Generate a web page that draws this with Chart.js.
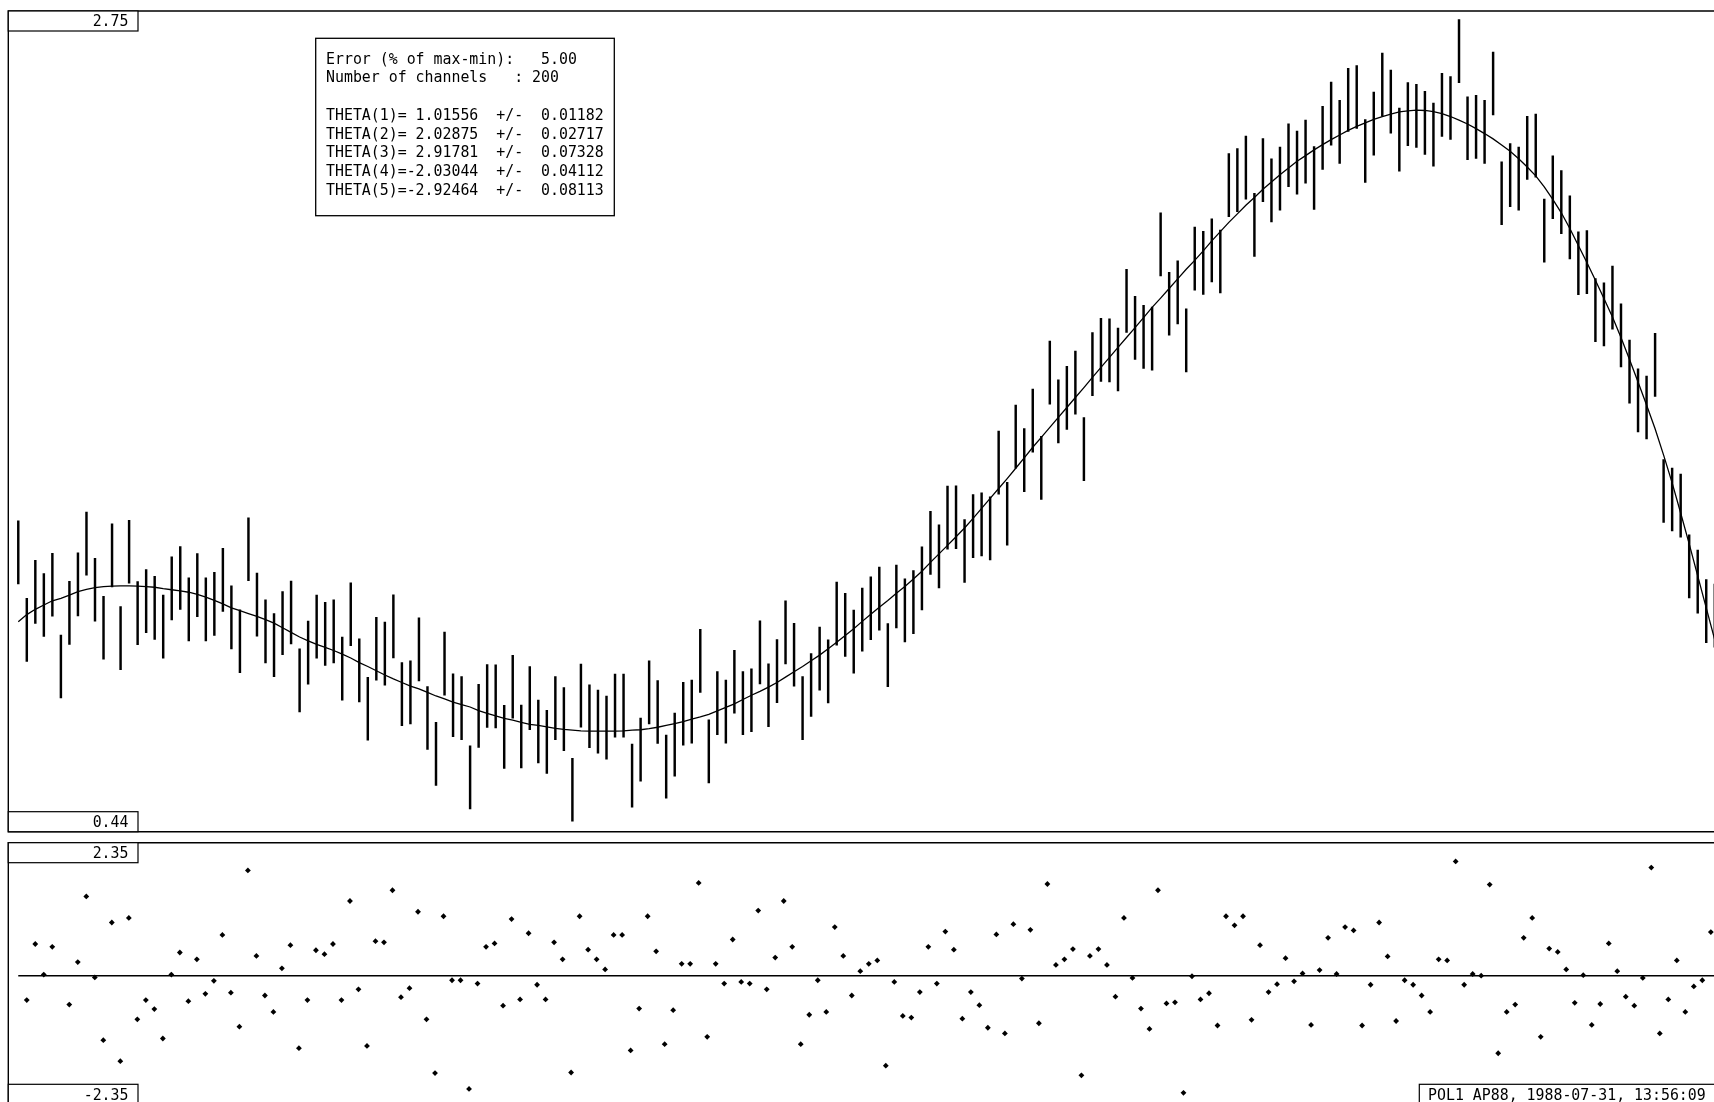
<!DOCTYPE html>
<html>
<head>
<meta charset="utf-8">
<script src="https://cdn.jsdelivr.net/npm/chart.js@4/dist/chart.umd.min.js"></script>
<style>
  html, body { margin: 0; padding: 0; background: #fff; overflow: hidden; }
  #wrap { position: relative; width: 1714px; height: 1102px; overflow: hidden; background: #fff; }
  #wrap canvas { position: absolute; left: 0; }
  #fit { top: 0; width: 1740px; height: 840px; }
  #res { top: 835px; width: 1740px; height: 280px; }
</style>
</head>
<body>
<div id="wrap">
  <canvas id="fit" width="1740" height="840"></canvas>
  <canvas id="res" width="1740" height="280"></canvas>
</div>
<script>
// Measured channel values (centre of each error bar)
const measured = [
  1.226,1.008,1.115,1.078,1.135,0.905,1.056,1.136,1.251,1.121,
  1.014,1.218,0.985,1.228,1.055,1.089,1.070,1.017,1.125,1.154,
  1.066,1.134,1.066,1.081,1.149,1.043,0.976,1.235,1.079,1.004,
  0.965,1.027,1.057,0.866,0.944,1.017,0.997,1.004,0.899,1.052,
  0.894,0.786,0.955,0.941,1.018,0.827,0.832,0.953,0.760,0.659,
  0.913,0.796,0.788,0.593,0.766,0.822,0.821,0.707,0.848,0.708,
  0.816,0.722,0.693,0.788,0.757,0.558,0.823,0.765,0.750,0.733,
  0.795,0.795,0.598,0.671,0.832,0.777,0.623,0.685,0.772,0.778,
  0.921,0.666,0.802,0.778,0.862,0.802,0.810,0.945,0.824,0.892,
  1.001,0.938,0.788,0.853,0.927,0.891,1.054,1.022,0.975,1.037,
  1.069,1.096,0.937,1.102,1.063,1.086,1.153,1.253,1.215,1.324,
  1.325,1.230,1.300,1.305,1.294,1.479,1.335,1.552,1.486,1.597,
  1.464,1.732,1.623,1.661,1.704,1.517,1.756,1.796,1.795,1.769,
  1.934,1.858,1.833,1.828,2.093,1.926,1.958,1.823,2.053,2.041,
  2.076,2.045,2.260,2.274,2.309,2.148,2.302,2.245,2.278,2.344,
  2.323,2.354,2.280,2.393,2.461,2.410,2.500,2.508,2.356,2.433,
  2.543,2.495,2.388,2.460,2.455,2.435,2.402,2.486,2.477,2.637,
  2.420,2.424,2.410,2.546,2.237,2.288,2.278,2.365,2.371,2.132,
  2.254,2.212,2.141,2.040,2.043,1.908,1.896,1.943,1.837,1.735,
  1.654,1.634,1.754,1.399,1.375,1.358,1.187,1.144,1.061,1.048
];

// Half-length of every error bar
const SIGMA = 0.0887;

// Fitted model evaluated at each channel
const fitCurve = [
  1.031,1.051,1.066,1.078,1.090,1.097,1.106,1.116,1.122,1.127,
  1.130,1.131,1.132,1.132,1.131,1.130,1.128,1.124,1.121,1.118,
  1.114,1.108,1.100,1.091,1.081,1.070,1.062,1.054,1.046,1.037,
  1.027,1.014,1.001,0.988,0.977,0.967,0.959,0.950,0.940,0.929,
  0.916,0.905,0.893,0.881,0.870,0.860,0.850,0.842,0.832,0.822,
  0.814,0.805,0.798,0.791,0.781,0.773,0.766,0.759,0.754,0.748,
  0.742,0.739,0.735,0.731,0.728,0.726,0.724,0.723,0.723,0.723,
  0.723,0.724,0.726,0.727,0.730,0.734,0.739,0.744,0.750,0.757,
  0.763,0.770,0.780,0.790,0.800,0.812,0.824,0.835,0.847,0.860,
  0.875,0.890,0.905,0.921,0.937,0.955,0.973,0.992,1.011,1.032,
  1.052,1.072,1.091,1.111,1.130,1.151,1.173,1.198,1.222,1.246,
  1.270,1.295,1.322,1.350,1.378,1.406,1.434,1.463,1.492,1.522,
  1.550,1.578,1.606,1.634,1.662,1.690,1.719,1.747,1.775,1.803,
  1.831,1.859,1.887,1.916,1.942,1.969,1.996,2.023,2.048,2.075,
  2.103,2.129,2.155,2.179,2.203,2.225,2.248,2.269,2.289,2.308,
  2.327,2.343,2.359,2.374,2.388,2.401,2.414,2.425,2.435,2.445,
  2.453,2.460,2.466,2.469,2.471,2.470,2.467,2.461,2.453,2.443,
  2.432,2.419,2.405,2.390,2.373,2.355,2.334,2.311,2.286,2.255,
  2.220,2.182,2.138,2.090,2.042,1.992,1.941,1.889,1.831,1.769,
  1.706,1.641,1.574,1.500,1.422,1.337,1.250,1.160,1.070,0.980
];

// Normalised residuals (data - fit) / error
const residuals = [
  2.20,-0.43,0.56,0.02,0.51,-2.17,-0.51,0.24,1.40,-0.03,
  -1.14,0.94,-1.51,1.02,-0.77,-0.43,-0.59,-1.11,0.02,0.41,
  -0.45,0.29,-0.32,-0.09,0.72,-0.30,-0.90,1.86,0.35,-0.35,
  -0.64,0.13,0.54,-1.28,-0.43,0.45,0.38,0.56,-0.43,1.32,
  -0.24,-1.24,0.61,0.59,1.51,-0.38,-0.22,1.13,-0.77,-1.72,
  1.05,-0.08,-0.08,-2.00,-0.14,0.51,0.57,-0.53,1.00,-0.42,
  0.75,-0.16,-0.42,0.59,0.29,-1.71,1.05,0.46,0.29,0.11,
  0.72,0.72,-1.32,-0.58,1.05,0.43,-1.21,-0.61,0.21,0.21,
  1.64,-1.08,0.21,-0.14,0.64,-0.11,-0.14,1.15,-0.24,0.32,
  1.32,0.51,-1.21,-0.69,-0.08,-0.64,0.86,0.35,-0.35,0.08,
  0.21,0.27,-1.59,-0.11,-0.71,-0.74,-0.29,0.51,-0.14,0.78,
  0.46,-0.76,-0.29,-0.52,-0.92,0.73,-1.02,0.91,-0.05,0.81,
  -0.84,1.62,0.19,0.29,0.47,-1.76,0.35,0.47,0.19,-0.37,
  1.02,-0.04,-0.58,-0.94,1.51,-0.49,-0.47,-2.07,-0.01,-0.42,
  -0.31,-0.88,1.05,0.89,1.05,-0.78,0.54,-0.29,-0.15,0.31,
  -0.10,0.04,-0.87,0.10,0.67,0.03,0.86,0.80,-0.88,-0.16,
  0.94,0.34,-0.80,-0.08,-0.16,-0.35,-0.64,0.29,0.27,2.02,
  -0.16,0.03,0.00,1.61,-1.37,-0.64,-0.51,0.67,1.02,-1.08,
  0.48,0.42,0.11,-0.48,0.01,-0.87,-0.50,0.57,0.08,-0.37,
  -0.53,-0.04,1.91,-1.02,-0.42,0.27,-0.64,-0.19,-0.08,0.77
];

// Axis limits shown in the corner boxes
const fitRange = [0.44, 2.75];
const residualRange = [-2.35, 2.35];

// Fit summary printed in the upper panel
const infoLines = [
  'Error (% of max-min):   5.00',
  'Number of channels   : 200',
  '',
  'THETA(1)= 1.01556  +/-  0.01182',
  'THETA(2)= 2.02875  +/-  0.02717',
  'THETA(3)= 2.91781  +/-  0.07328',
  'THETA(4)=-2.03044  +/-  0.04112',
  'THETA(5)=-2.92464  +/-  0.08113'
];
const footerText = 'POL1 AP88, 1988-07-31, 13:56:09';

const channels = measured.map((_, i) => i);
const X_MIN = -1.17, X_MAX = 201.96;
const FONT = '"DejaVu Sans Mono", "Liberation Mono", monospace';

function monoText(ctx, str, x, y, align) {
  const sx = 0.93;
  ctx.save();
  ctx.font = '16px ' + FONT;
  ctx.fillStyle = '#000';
  ctx.textBaseline = 'alphabetic';
  ctx.scale(sx, 1);
  const w = ctx.measureText(str).width;
  ctx.fillText(str, align === 'right' ? x / sx - w : x / sx, y);
  ctx.restore();
}

function labelBox(ctx, x0, y0, x1, y1, text, align, tx) {
  ctx.save();
  ctx.fillStyle = '#fff';
  ctx.fillRect(x0, y0, x1 - x0, y1 - y0);
  ctx.strokeStyle = '#000';
  ctx.lineWidth = 1.2;
  ctx.strokeRect(x0, y0, x1 - x0, y1 - y0);
  ctx.restore();
  monoText(ctx, text, tx, y0 + 15.3, align);
}

// Frame, corner labels and parameter table of the fit panel
const fitDecor = {
  id: 'fitDecor',
  afterDraw(chart) {
    const ctx = chart.ctx, a = chart.chartArea;
    ctx.save();
    ctx.strokeStyle = '#000';
    ctx.lineWidth = 1.4;
    ctx.beginPath();
    ctx.moveTo(chart.width, a.top);
    ctx.lineTo(a.left, a.top);
    ctx.lineTo(a.left, a.bottom);
    ctx.lineTo(chart.width, a.bottom);
    ctx.stroke();
    ctx.restore();

    labelBox(ctx, a.left, a.top, 138, a.top + 20, fitRange[1].toFixed(2), 'right', 128.5);
    labelBox(ctx, a.left, a.bottom - 20, 138, a.bottom, fitRange[0].toFixed(2), 'right', 128.5);

    // parameter table
    ctx.save();
    ctx.fillStyle = '#fff';
    ctx.fillRect(315.7, 38.3, 298.6, 177.4);
    ctx.strokeStyle = '#000';
    ctx.lineWidth = 1.3;
    ctx.strokeRect(315.7, 38.3, 298.6, 177.4);
    ctx.restore();
    infoLines.forEach((line, k) => {
      if (line) monoText(ctx, line, 326, 63.5 + 18.75 * k, 'left');
    });
  }
};

// Frame and labels of the residual panel
const resDecor = {
  id: 'resDecor',
  afterDraw(chart) {
    const ctx = chart.ctx, a = chart.chartArea;
    ctx.save();
    ctx.strokeStyle = '#000';
    ctx.lineWidth = 1.4;
    ctx.beginPath();
    ctx.moveTo(chart.width, a.top);
    ctx.lineTo(a.left, a.top);
    ctx.lineTo(a.left, chart.height);
    ctx.stroke();
    ctx.restore();

    labelBox(ctx, a.left, a.top, 138, a.top + 20, residualRange[1].toFixed(2), 'right', 128.5);
    labelBox(ctx, a.left, 249.3, 138, 269.3, residualRange[0].toFixed(2), 'right', 128.5);
    labelBox(ctx, 1419.3, 249.3, chart.width + 5, 269.3, footerText, 'left', 1428);
  }
};

Chart.defaults.font.family = FONT;

new Chart(document.getElementById('fit'), {
  type: 'bar',
  data: {
    datasets: [
      {
        type: 'bar',
        data: channels.map(i => ({ x: i, y: [measured[i] - SIGMA, measured[i] + SIGMA] })),
        backgroundColor: '#000',
        borderWidth: 0,
        barThickness: 1.8,
        grouped: false
      },
      {
        type: 'line',
        data: channels.map(i => ({ x: i, y: fitCurve[i] })),
        borderColor: '#000',
        borderWidth: 1.3,
        pointRadius: 0,
        tension: 0,
        fill: false
      }
    ]
  },
  options: {
    responsive: false,
    animation: false,
    devicePixelRatio: 1,
    layout: { padding: { left: 8.3, top: 11, right: 0, bottom: 8.3 } },
    plugins: { legend: { display: false }, tooltip: { enabled: false } },
    scales: {
      x: { type: 'linear', min: X_MIN, max: X_MAX, offset: false, display: false },
      y: { type: 'linear', min: fitRange[0], max: fitRange[1], display: false }
    }
  },
  plugins: [fitDecor]
});

new Chart(document.getElementById('res'), {
  type: 'scatter',
  data: {
    datasets: [
      {
        type: 'line',
        data: [{ x: 0, y: 0 }, { x: X_MAX, y: 0 }],
        borderColor: '#000',
        borderWidth: 1.6,
        pointRadius: 0,
        fill: false
      },
      {
        data: channels.map(i => ({ x: i, y: residuals[i] })),
        pointStyle: 'rectRot',
        pointRadius: 2.9,
        backgroundColor: '#000',
        borderColor: '#000',
        borderWidth: 0
      }
    ]
  },
  options: {
    responsive: false,
    animation: false,
    devicePixelRatio: 1,
    layout: { padding: { left: 8.3, top: 7.7, right: 0, bottom: 6.3 } },
    plugins: { legend: { display: false }, tooltip: { enabled: false } },
    scales: {
      x: { type: 'linear', min: X_MIN, max: X_MAX, display: false },
      y: { type: 'linear', min: residualRange[0], max: residualRange[1], display: false }
    }
  },
  plugins: [resDecor]
});
</script>
</body>
</html>
